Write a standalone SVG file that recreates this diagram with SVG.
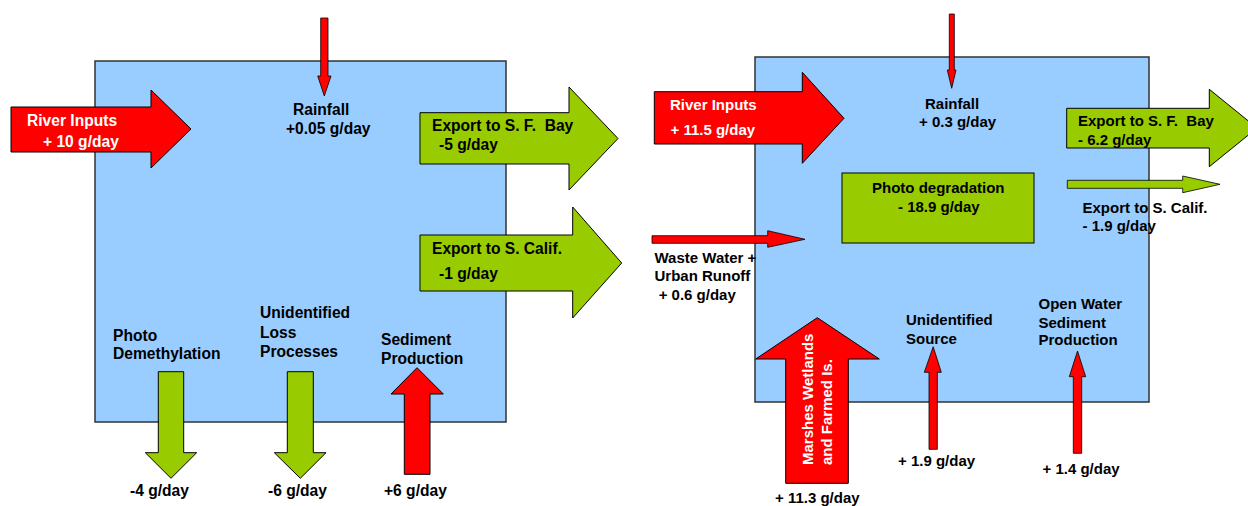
<svg xmlns="http://www.w3.org/2000/svg" width="1248" height="506" viewBox="0 0 1248 506">
<style>
.box{fill:#99CCFF;stroke:#333;stroke-width:1.5}
.red{fill:#FF0000;stroke:#000;stroke-width:1}
.grn{fill:#99CC00;stroke:#000;stroke-width:1}
.thin{stroke-width:0.8}
text{font-family:"Liberation Sans",Arial,sans-serif;font-weight:bold;fill:#000}
.l{font-size:15.6px}
.r{font-size:15px}
.w{fill:#fff}
</style>
<rect width="1248" height="506" fill="#fff"/>
<g id="left-box"><rect class="box" x="95" y="61" width="411" height="361"/></g>
<g id="right-box"><rect class="box" x="755" y="57" width="394" height="345"/></g>
<g id="photo-degradation">
<rect class="grn" x="842" y="173" width="192" height="70"/>
<text class="r" x="872" y="193">Photo degradation</text>
<text class="r" x="898" y="212">- 18.9 g/day</text>
</g>
<g id="connectors">
<g id="l-river">
<polygon class="red" points="11,107 151,107 151,90 191,129 151,168 151,152 11,152"/>
<text class="l w" x="27" y="126">River Inputs</text>
<text class="l w" x="43" y="147">+ 10 g/day</text>
</g>
<g id="l-rain">
<polygon class="red thin" points="320.7,18 328,18 328,76 331,76 324.3,96 317.7,76 320.7,76"/>
<text class="l" x="293" y="115">Rainfall</text>
<text class="l" x="286" y="134">+0.05 g/day</text>
</g>
<g id="l-export-sf">
<polygon class="grn" points="420,112.7 569,112.7 569,87 618,138.5 569,190 569,164 420,164"/>
<text class="l" x="432" y="131" xml:space="preserve">Export to S. F.  Bay</text>
<text class="l" x="439" y="150">-5 g/day</text>
</g>
<g id="l-export-sc">
<polygon class="grn" points="420,235 572.7,235 572.7,207 621.7,263 572.7,318 572.7,291 420,291"/>
<text class="l" x="432" y="254">Export to S. Calif.</text>
<text class="l" x="439" y="279">-1 g/day</text>
</g>
<g id="l-photo-demeth">
<polygon class="grn" points="158.3,371.7 183.7,371.7 183.7,452.7 196.7,452.7 171,478.3 145.3,452.7 158.3,452.7"/>
<text class="l" x="113" y="341">Photo</text>
<text class="l" x="113" y="359">Demethylation</text>
<text class="l" x="130" y="496">-4 g/day</text>
</g>
<g id="l-unident-loss">
<polygon class="grn" points="287.3,371.7 313.3,371.7 313.3,452.7 326,452.7 300.3,478.3 274.3,452.7 287.3,452.7"/>
<text class="l" x="260" y="318">Unidentified</text>
<text class="l" x="260" y="337.5">Loss</text>
<text class="l" x="260" y="356.5">Processes</text>
<text class="l" x="268" y="496">-6 g/day</text>
</g>
<g id="l-sediment">
<polygon class="red" points="404.3,474.3 430,474.3 430,394 443.3,394 417,367.7 391,394 404.3,394"/>
<text class="l" x="381" y="345">Sediment</text>
<text class="l" x="381" y="364">Production</text>
<text class="l" x="384" y="496">+6 g/day</text>
</g>
<g id="r-river">
<polygon class="red" points="654.3,91.7 802.3,91.7 802.3,72.3 844,118.3 802.3,163.3 802.3,144 654.3,144"/>
<text class="r w" x="670" y="109.5">River Inputs</text>
<text class="r w" x="670.5" y="134.5">+ 11.5 g/day</text>
</g>
<g id="r-rain">
<polygon class="red thin" points="949.3,14 954.3,14 954.3,70 956,70 951.7,88.3 947.3,70 949.3,70"/>
<text class="r" x="925" y="109">Rainfall</text>
<text class="r" x="919" y="127">+ 0.3 g/day</text>
</g>
<g id="r-export-sf">
<polygon class="grn" points="1066.7,108.3 1209.3,108.3 1209.3,89.3 1257,128 1209.3,166.7 1209.3,148 1066.7,148"/>
<text class="r" x="1078" y="126" xml:space="preserve">Export to S. F.  Bay</text>
<text class="r" x="1078" y="144.5">- 6.2 g/day</text>
</g>
<g id="r-export-sc">
<polygon class="grn thin" points="1067.3,180.3 1182.7,180.3 1182.7,176 1220,184.3 1182.7,192.7 1182.7,188.3 1067.3,188.3"/>
<text class="r" x="1082.5" y="212.5">Export to S. Calif.</text>
<text class="r" x="1082.5" y="231">- 1.9 g/day</text>
</g>
<g id="r-wastewater">
<polygon class="red thin" points="652,235.7 767.7,235.7 767.7,230.7 805,239.3 767.7,247.3 767.7,243.3 652,243.3"/>
<text class="r" x="654.5" y="263">Waste Water +</text>
<text class="r" x="654.5" y="281">Urban Runoff</text>
<text class="r" x="654.5" y="299.5" xml:space="preserve"> + 0.6 g/day</text>
</g>
<g id="r-marshes">
<polygon class="red" points="785.7,483.3 848.3,483.3 848.3,359 879.3,359 817.3,317.7 755.7,359 785.7,359"/>
<text class="r w" transform="translate(813,465) rotate(-90)">Marshes Wetlands</text>
<text class="r w" transform="translate(832,465) rotate(-90)">and Farmed Is.</text>
<text class="r" x="775" y="503">+ 11.3 g/day</text>
</g>
<g id="r-unident-source">
<polygon class="red thin" points="929,449.3 937.3,449.3 937.3,372.3 941.3,372.3 933.2,346.7 924.3,372.3 929,372.3"/>
<text class="r" x="906" y="325">Unidentified</text>
<text class="r" x="906" y="343.5">Source</text>
<text class="r" x="898" y="466">+ 1.9 g/day</text>
</g>
<g id="r-open-water">
<polygon class="red thin" points="1073.3,453.3 1081.7,453.3 1081.7,376.7 1085.7,376.7 1077.5,351 1069.3,376.7 1073.3,376.7"/>
<text class="r" x="1038.5" y="308.5">Open Water</text>
<text class="r" x="1038.5" y="327.5">Sediment</text>
<text class="r" x="1038.5" y="345">Production</text>
<text class="r" x="1042.5" y="473.5">+ 1.4 g/day</text>
</g>
</g>
</svg>
